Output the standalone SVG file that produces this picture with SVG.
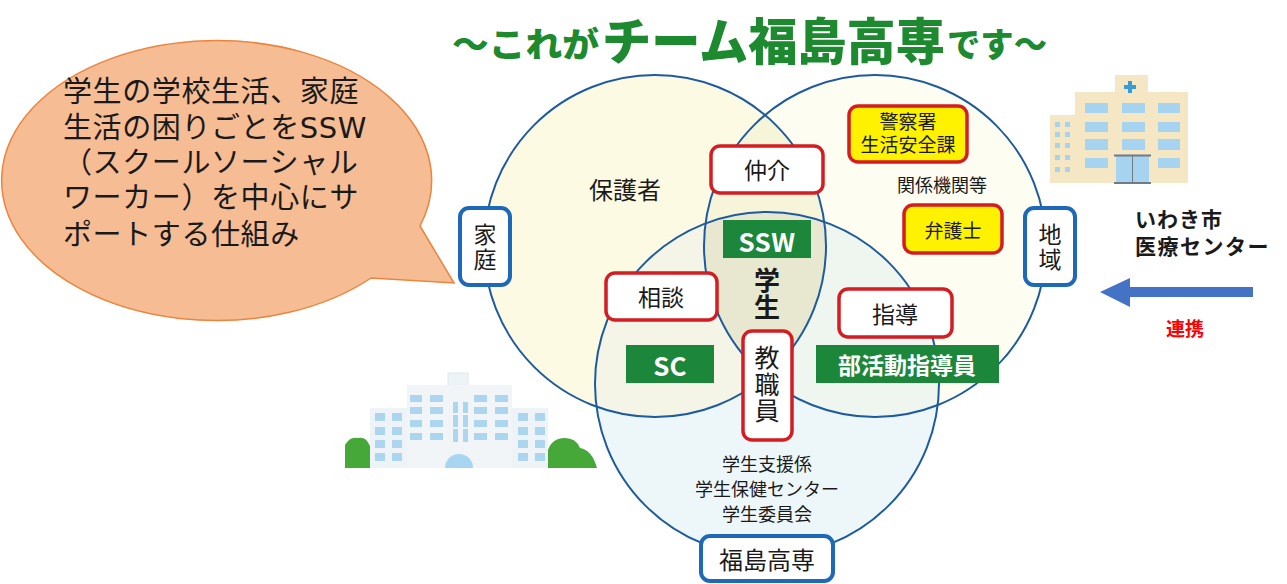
<svg xmlns="http://www.w3.org/2000/svg" width="1287" height="584" viewBox="0 0 1287 584">
  <style>
    text { font-family: "Noto Sans CJK JP", "Noto Sans", sans-serif; dominant-baseline: central; text-anchor: middle; fill: #1a1a1a; }
    text.ml { font-family: "DejaVu Sans", "Noto Sans CJK JP", sans-serif; }
    text.bub { font-size: 29px; letter-spacing: 0.6px; text-anchor: start; }
    .vert { writing-mode: vertical-rl; text-orientation: upright; }
    .ring { fill: none; stroke: #1d5b9e; stroke-width: 2; }
    .blue-box { fill: #ffffff; stroke: #1d68b8; stroke-width: 4; }
    .red-box { fill: #ffffff; stroke: #d41c22; stroke-width: 3.5; }
    .yellow-box { fill: #fff200; stroke: #d41c22; stroke-width: 3.5; }
    .green-box { fill: #1c863a; }
    .lbl { font-size: 23px; }
    .small { font-size: 18px; }
    .white-bold { fill: #ffffff; font-weight: 700; }
    .title { fill: #1d8a30; font-weight: 900; text-anchor: start; }
    .win-h { fill: #a6d3ef; }
    .win-s { fill: #acd5f0; }
    .tree { fill: #45a838; }
  </style>
  <defs>
    <clipPath id="clipL"><circle cx="655" cy="246" r="171"/></clipPath>
    <clipPath id="clipR"><circle cx="875" cy="246" r="171"/></clipPath>
  </defs>

  <rect width="1287" height="584" fill="#ffffff"/>

  <!-- title -->
  <g id="title">
    <text class="title" x="452" y="42" font-size="34" textLength="147" lengthAdjust="spacingAndGlyphs">〜これが</text>
    <text class="title" x="602" y="38" font-size="50" textLength="343" lengthAdjust="spacingAndGlyphs">チーム福島高専</text>
    <text class="title" x="947" y="42" font-size="34" textLength="100" lengthAdjust="spacingAndGlyphs">です〜</text>
  </g>

  <!-- venn circles -->
  <g id="circles">
    <circle cx="655" cy="246" r="171" fill="#fdfae3"/>
    <circle cx="875" cy="246" r="171" fill="#fefdf1"/>
    <circle cx="767" cy="384" r="172" fill="#edf7fa"/>
    <circle cx="875" cy="246" r="171" fill="#f6f4d9" clip-path="url(#clipL)"/>
    <circle cx="767" cy="384" r="172" fill="#f4f5e6" clip-path="url(#clipL)"/>
    <circle cx="767" cy="384" r="172" fill="#eef6ef" clip-path="url(#clipR)"/>
    <g clip-path="url(#clipL)">
      <circle cx="767" cy="384" r="172" fill="#e7e8cf" clip-path="url(#clipR)"/>
    </g>
    <circle class="ring" cx="655" cy="246" r="171"/>
    <circle class="ring" cx="875" cy="246" r="171"/>
    <circle class="ring" cx="767" cy="384" r="172"/>
  </g>

  <!-- speech bubble -->
  <g id="bubble">
    <path d="M 420 226 L 454 283 L 371 278 A 215 140 0 1 1 420 226 Z" fill="#f6bc94" stroke="#ec843c" stroke-width="1.5"/>
    <text class="ml bub" x="63" y="92">学生の学校生活、家庭</text>
    <text class="ml bub" x="63" y="128">生活の困りごとをSSW</text>
    <text class="ml bub" x="63" y="163">（スクールソーシャル</text>
    <text class="ml bub" x="63" y="198">ワーカー）を中心にサ</text>
    <text class="ml bub" x="63" y="235">ポートする仕組み</text>
  </g>

  <!-- free labels inside circles -->
  <g id="label-hogosha"><text x="625" y="188" font-size="24">保護者</text></g>
  <g id="label-kankei"><text class="small" x="942" y="184">関係機関等</text></g>
  <g id="label-gakusei">
    <text class="vert" x="767" y="294" font-size="26" font-weight="700" letter-spacing="1">学生</text>
  </g>
  <g id="label-support">
    <text class="small ml"><tspan x="767" y="464">学生支援係</tspan><tspan x="767" y="489">学生保健センター</tspan><tspan x="767" y="514">学生委員会</tspan></text>
  </g>

  <!-- blue boxes -->
  <g id="node-katei">
    <rect class="blue-box" x="460" y="208" width="50" height="77" rx="9"/>
    <text class="lbl vert" x="485" y="248" letter-spacing="2">家庭</text>
  </g>
  <g id="node-chiiki">
    <rect class="blue-box" x="1025" y="208" width="50" height="77" rx="9"/>
    <text class="lbl vert" x="1050" y="248" letter-spacing="2">地域</text>
  </g>
  <g id="node-kosen">
    <rect class="blue-box" x="701" y="536" width="132" height="45" rx="9"/>
    <text x="767" y="558" font-size="24">福島高専</text>
  </g>

  <!-- red boxes -->
  <g id="node-chukai">
    <rect class="red-box" x="711" y="146" width="112" height="47" rx="9"/>
    <text class="lbl" x="767" y="169">仲介</text>
  </g>
  <g id="node-sodan">
    <rect class="red-box" x="606" y="273" width="111" height="47" rx="9"/>
    <text class="lbl" x="661" y="296">相談</text>
  </g>
  <g id="node-shido">
    <rect class="red-box" x="839" y="289" width="113" height="48" rx="9"/>
    <text class="lbl" x="895" y="313">指導</text>
  </g>
  <g id="node-kyoshokuin">
    <rect class="red-box" x="743" y="331" width="49" height="109" rx="9"/>
    <text class="vert" x="767" y="385" font-size="25" letter-spacing="1.5">教職員</text>
  </g>

  <!-- yellow boxes -->
  <g id="node-keisatsu">
    <rect class="yellow-box" x="849" y="106" width="118" height="56" rx="9"/>
    <text class="ml" font-size="19"><tspan x="908" y="122">警察署</tspan><tspan x="908" y="145">生活安全課</tspan></text>
  </g>
  <g id="node-bengoshi">
    <rect class="yellow-box" x="904" y="205" width="98" height="48" rx="9"/>
    <text x="953" y="229" font-size="19">弁護士</text>
  </g>

  <!-- green boxes -->
  <g id="node-ssw">
    <rect class="green-box" x="723" y="220" width="88" height="38"/>
    <text class="white-bold" x="767" y="240" font-size="26" letter-spacing="0.5">SSW</text>
  </g>
  <g id="node-sc">
    <rect class="green-box" x="626" y="345" width="88" height="38"/>
    <text class="white-bold" x="670" y="364" font-size="26">SC</text>
  </g>
  <g id="node-bukatsu">
    <rect class="green-box" x="816" y="345" width="183" height="38"/>
    <text class="white-bold" x="907" y="364" font-size="23">部活動指導員</text>
  </g>

  <!-- school building -->
  <g id="school">
    <path class="tree" d="M 345 468 L 345 445 Q 350 436 358 438 Q 366 436 370 446 L 372 468 Z"/>
    <path class="tree" d="M 546 468 L 548 450 Q 552 438 565 438 Q 576 438 580 448 Q 592 450 597 468 Z"/>
    <rect x="448" y="373" width="20" height="14" fill="#eef3f7" stroke="#dfe7ee"/>
    <rect x="370" y="408" width="37" height="60" fill="#eef3f7"/>
    <rect x="512" y="408" width="36" height="60" fill="#eef3f7"/>
    <rect x="407" y="385" width="105" height="83" fill="#f1f5f8"/>
    <g class="win-s">
      <rect x="410" y="395" width="12" height="7"/><rect x="430" y="395" width="13" height="7"/>
      <rect x="410" y="407" width="12" height="7"/><rect x="430" y="407" width="13" height="7"/>
      <rect x="410" y="420" width="12" height="7"/><rect x="430" y="420" width="13" height="7"/>
      <rect x="410" y="433" width="12" height="7"/><rect x="430" y="433" width="13" height="7"/>
      <rect x="474" y="395" width="13" height="7"/><rect x="495" y="395" width="13" height="7"/>
      <rect x="474" y="407" width="13" height="7"/><rect x="495" y="407" width="13" height="7"/>
      <rect x="474" y="420" width="13" height="7"/><rect x="495" y="420" width="13" height="7"/>
      <rect x="474" y="433" width="13" height="7"/><rect x="495" y="433" width="13" height="7"/>
      <rect x="453" y="402" width="5" height="11"/><rect x="463" y="402" width="5" height="11"/>
      <rect x="453" y="415" width="5" height="12"/><rect x="463" y="415" width="5" height="12"/>
      <rect x="453" y="429" width="5" height="13"/><rect x="463" y="429" width="5" height="13"/>
      <rect x="375" y="413" width="10" height="8"/><rect x="392" y="413" width="10" height="8"/>
      <rect x="375" y="427" width="10" height="8"/><rect x="392" y="427" width="10" height="8"/>
      <rect x="375" y="440" width="10" height="8"/><rect x="392" y="440" width="10" height="8"/>
      <rect x="375" y="453" width="10" height="8"/><rect x="392" y="453" width="10" height="8"/>
      <rect x="518" y="413" width="10" height="8"/><rect x="535" y="413" width="10" height="8"/>
      <rect x="518" y="427" width="10" height="8"/><rect x="535" y="427" width="10" height="8"/>
      <rect x="518" y="440" width="10" height="8"/><rect x="535" y="440" width="10" height="8"/>
      <rect x="518" y="453" width="10" height="8"/><rect x="535" y="453" width="10" height="8"/>
    </g>
    <path d="M 445 468 A 14 14 0 0 1 473 468 Z" fill="#a8d6f2"/>
  </g>

  <!-- hospital building -->
  <g id="hospital">
    <rect x="1115" y="75" width="33" height="18" fill="#f6e7c4"/>
    <rect x="1050" y="115" width="26" height="68" fill="#f6e7c4"/>
    <rect x="1075" y="92" width="113" height="91" fill="#f6e7c4"/>
    <path d="M 1128 81 h 4 v 4 h 4 v 4 h -4 v 4 h -4 v -4 h -4 v -4 h 4 Z" fill="#3b9bd8"/>
    <g class="win-h">
      <rect x="1085" y="103" width="23" height="10"/><rect x="1122" y="103" width="23" height="10"/><rect x="1158" y="103" width="22" height="10"/>
      <rect x="1085" y="122" width="23" height="10"/><rect x="1122" y="122" width="23" height="10"/><rect x="1158" y="122" width="22" height="10"/>
      <rect x="1085" y="139" width="23" height="11"/><rect x="1122" y="139" width="23" height="11"/><rect x="1158" y="139" width="22" height="11"/>
      <rect x="1085" y="158" width="23" height="10"/><rect x="1158" y="158" width="22" height="10"/>
      <rect x="1055" y="122" width="5" height="5"/><rect x="1065" y="122" width="5" height="5"/>
      <rect x="1055" y="132" width="5" height="5"/><rect x="1065" y="132" width="5" height="5"/>
      <rect x="1055" y="143" width="5" height="5"/><rect x="1065" y="143" width="5" height="5"/>
      <rect x="1055" y="155" width="5" height="5"/><rect x="1065" y="155" width="5" height="5"/>
      <rect x="1055" y="167" width="5" height="5"/><rect x="1065" y="167" width="5" height="5"/>
      <rect x="1116" y="156" width="33" height="27"/>
    </g>
    <line x1="1114" y1="155.5" x2="1151" y2="155.5" stroke="#6f7b85" stroke-width="2"/>
    <line x1="1114" y1="183" x2="1151" y2="183" stroke="#6f7b85" stroke-width="2"/>
    <line x1="1132.5" y1="156" x2="1132.5" y2="183" stroke="#6f7b85" stroke-width="1"/>
  </g>

  <g id="node-iwaki">
    <text class="ml" font-size="21" font-weight="700" style="text-anchor:start"><tspan x="1135" y="220" letter-spacing="1">いわき市</tspan><tspan x="1135" y="247" letter-spacing="1.5">医療センター</tspan></text>
  </g>

  <!-- link from the medical centre -->
  <g id="connectors">
    <path d="M 1253 287 L 1130 287 L 1130 278 L 1100 292 L 1130 307 L 1130 297 L 1253 297 Z" fill="#4472c4"/>
    <text x="1185" y="327" font-size="19" font-weight="700" style="fill:#ff0000">連携</text>
  </g>
</svg>
